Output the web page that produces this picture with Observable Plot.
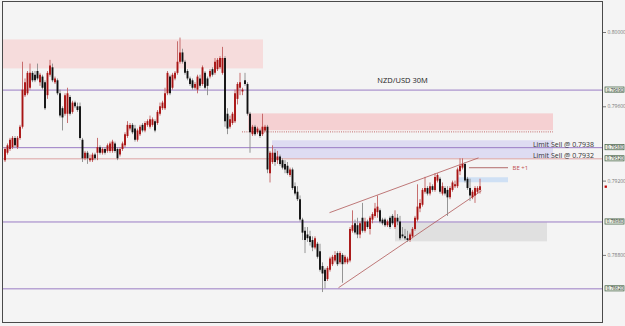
<!DOCTYPE html>
<html><head><meta charset="utf-8">
<script src="https://cdn.jsdelivr.net/npm/d3@7"></script>
<script src="https://cdn.jsdelivr.net/npm/@observablehq/plot@0.6"></script>
<style>
html,body{margin:0;padding:0;background:#f4f4f4;}
#chart{width:625px;height:326px;overflow:hidden;}
svg{display:block;}
</style></head><body><div id="chart"></div>
<script>
// NZD/USD 30M candles (price)
const open = [0.7931,0.7935,0.7937,0.7938,0.7943,0.7938,0.7943,0.7949,0.7966,0.7967,
0.7970,0.7978,0.7977,0.7979,0.7973,0.7976,0.7973,0.7966,0.7977,0.7981,
0.7973,0.7974,0.7967,0.7959,0.7956,0.7956,0.7965,0.7957,0.7962,0.7960,
0.7960,0.7942,0.7932,0.7935,0.7931,0.7931,0.7934,0.7935,0.7938,0.7935,
0.7937,0.7936,0.7936,0.7936,0.7940,0.7937,0.7934,0.7937,0.7939,0.7944,
0.7948,0.7950,0.7948,0.7942,0.7945,0.7950,0.7947,0.7950,0.7949,0.7950,
0.7952,0.7951,0.7956,0.7959,0.7959,0.7967,0.7976,0.7970,0.7975,0.7978,
0.7984,0.7989,0.7984,0.7979,0.7975,0.7974,0.7970,0.7969,0.7975,0.7972,
0.7978,0.7975,0.7976,0.7980,0.7978,0.7980,0.7981,0.7978,0.7986,0.7956,
0.7949,0.7951,0.7952,0.7964,0.7970,0.7968,0.7974,0.7972,0.7956,0.7945,
0.7949,0.7946,0.7947,0.7945,0.7947,0.7949,0.7924,0.7930,0.7935,0.7931,
0.7933,0.7931,0.7929,0.7928,0.7923,0.7926,0.7917,0.7914,0.7910,0.7899,
0.7893,0.7891,0.7890,0.7888,0.7884,0.7886,0.7882,0.7874,0.7872,0.7867,
0.7872,0.7875,0.7877,0.7881,0.7876,0.7880,0.7876,0.7876,0.7877,0.7893,
0.7897,0.7896,0.7891,0.7900,0.7893,0.7898,0.7894,0.7899,0.7901,0.7903,
0.7904,0.7899,0.7899,0.7896,0.7900,0.7901,0.7895,0.7900,0.7898,0.7891,
0.7890,0.7889,0.7888,0.7890,0.7894,0.7899,0.7905,0.7907,0.7914,0.7916,
0.7913,0.7917,0.7915,0.7920,0.7921,0.7913,0.7916,0.7915,0.7911,0.7915,
0.7917,0.7917,0.7925,0.7927,0.7929,0.7921,0.7916,0.7911,0.7912,0.7914,0.7915];
const high = [0.7938,0.7940,0.7943,0.7944,0.7944,0.7944,0.7950,0.7984,0.7975,0.7979,
0.7983,0.7979,0.7979,0.7983,0.7978,0.7977,0.7974,0.7979,0.7985,0.7983,
0.7976,0.7975,0.7969,0.7960,0.7967,0.7970,0.7966,0.7963,0.7963,0.7962,
0.7962,0.7943,0.7936,0.7936,0.7934,0.7935,0.7935,0.7943,0.7939,0.7938,
0.7938,0.7940,0.7941,0.7942,0.7941,0.7938,0.7938,0.7941,0.7946,0.7952,
0.7951,0.7951,0.7950,0.7948,0.7950,0.7951,0.7952,0.7953,0.7955,0.7954,
0.7953,0.7958,0.7962,0.7963,0.7970,0.7979,0.7977,0.7978,0.7979,0.7995,
0.7997,0.7991,0.7985,0.7980,0.7976,0.7975,0.7973,0.7977,0.7977,0.7982,
0.7979,0.7976,0.7980,0.7981,0.7986,0.7986,0.7987,0.7992,0.7987,0.7959,
0.7955,0.7957,0.7969,0.7973,0.7978,0.7970,0.7978,0.7973,0.7957,0.7950,
0.7950,0.7949,0.7948,0.7956,0.7950,0.7950,0.7936,0.7939,0.7937,0.7936,
0.7934,0.7932,0.7931,0.7930,0.7927,0.7927,0.7919,0.7917,0.7912,0.7900,
0.7895,0.7895,0.7893,0.7890,0.7890,0.7887,0.7886,0.7876,0.7873,0.7874,
0.7879,0.7880,0.7882,0.7882,0.7882,0.7881,0.7880,0.7879,0.7895,0.7904,
0.7899,0.7900,0.7898,0.7908,0.7900,0.7899,0.7901,0.7903,0.7908,0.7912,
0.7905,0.7900,0.7900,0.7899,0.7901,0.7902,0.7904,0.7902,0.7901,0.7895,
0.7894,0.7893,0.7892,0.7895,0.7901,0.7918,0.7910,0.7916,0.7922,0.7917,
0.7919,0.7918,0.7924,0.7924,0.7922,0.7919,0.7917,0.7917,0.7917,0.7920,
0.7920,0.7927,0.7932,0.7932,0.7930,0.7922,0.7921,0.7915,0.7917,0.7917,0.7921];
const low = [0.7930,0.7934,0.7936,0.7937,0.7938,0.7937,0.7942,0.7948,0.7965,0.7966,
0.7969,0.7973,0.7973,0.7974,0.7971,0.7969,0.7958,0.7964,0.7976,0.7973,
0.7972,0.7966,0.7954,0.7947,0.7955,0.7951,0.7955,0.7956,0.7959,0.7957,
0.7942,0.7930,0.7931,0.7929,0.7930,0.7930,0.7931,0.7931,0.7934,0.7934,
0.7934,0.7935,0.7935,0.7935,0.7935,0.7931,0.7933,0.7936,0.7938,0.7943,
0.7947,0.7945,0.7941,0.7941,0.7944,0.7946,0.7946,0.7949,0.7948,0.7949,
0.7946,0.7950,0.7955,0.7958,0.7958,0.7966,0.7966,0.7969,0.7974,0.7977,
0.7983,0.7983,0.7977,0.7974,0.7971,0.7969,0.7969,0.7967,0.7970,0.7971,
0.7969,0.7966,0.7975,0.7976,0.7977,0.7979,0.7980,0.7977,0.7949,0.7945,
0.7948,0.7950,0.7951,0.7961,0.7966,0.7966,0.7971,0.7955,0.7935,0.7944,
0.7944,0.7945,0.7943,0.7944,0.7946,0.7924,0.7919,0.7929,0.7928,0.7929,
0.7928,0.7926,0.7924,0.7923,0.7922,0.7915,0.7912,0.7909,0.7898,0.7888,
0.7881,0.7887,0.7885,0.7882,0.7883,0.7878,0.7871,0.7860,0.7862,0.7866,
0.7871,0.7874,0.7876,0.7874,0.7875,0.7865,0.7875,0.7875,0.7876,0.7892,
0.7891,0.7889,0.7889,0.7892,0.7892,0.7894,0.7891,0.7897,0.7900,0.7900,
0.7897,0.7896,0.7895,0.7895,0.7894,0.7896,0.7894,0.7896,0.7888,0.7889,
0.7888,0.7887,0.7887,0.7889,0.7893,0.7898,0.7903,0.7906,0.7913,0.7912,
0.7912,0.7914,0.7914,0.7919,0.7913,0.7912,0.7912,0.7901,0.7910,0.7914,
0.7916,0.7916,0.7923,0.7926,0.7919,0.7915,0.7909,0.7910,0.7908,0.7913,0.7913];
const close = [0.7937,0.7939,0.7942,0.7943,0.7939,0.7943,0.7949,0.7969,0.7973,0.7978,
0.7978,0.7974,0.7974,0.7975,0.7977,0.7970,0.7959,0.7978,0.7982,0.7974,
0.7975,0.7967,0.7955,0.7954,0.7966,0.7967,0.7956,0.7962,0.7960,0.7958,
0.7943,0.7932,0.7935,0.7932,0.7932,0.7934,0.7932,0.7938,0.7935,0.7937,
0.7935,0.7939,0.7940,0.7941,0.7936,0.7932,0.7937,0.7940,0.7945,0.7950,
0.7950,0.7946,0.7942,0.7947,0.7949,0.7947,0.7951,0.7952,0.7953,0.7953,
0.7947,0.7957,0.7960,0.7962,0.7967,0.7978,0.7967,0.7977,0.7978,0.7984,
0.7989,0.7984,0.7978,0.7975,0.7972,0.7970,0.7972,0.7976,0.7971,0.7981,
0.7970,0.7971,0.7979,0.7977,0.7984,0.7985,0.7986,0.7986,0.7952,0.7948,
0.7953,0.7956,0.7967,0.7972,0.7973,0.7969,0.7972,0.7956,0.7946,0.7949,
0.7945,0.7948,0.7944,0.7949,0.7949,0.7926,0.7935,0.7935,0.7930,0.7933,
0.7929,0.7927,0.7926,0.7924,0.7926,0.7916,0.7913,0.7910,0.7899,0.7892,
0.7888,0.7889,0.7887,0.7884,0.7889,0.7879,0.7872,0.7870,0.7866,0.7873,
0.7878,0.7879,0.7880,0.7875,0.7881,0.7875,0.7879,0.7878,0.7894,0.7896,
0.7892,0.7891,0.7897,0.7893,0.7898,0.7895,0.7900,0.7902,0.7905,0.7906,
0.7898,0.7897,0.7896,0.7898,0.7895,0.7897,0.7900,0.7898,0.7889,0.7890,
0.7889,0.7888,0.7891,0.7894,0.7900,0.7906,0.7908,0.7915,0.7916,0.7913,
0.7917,0.7915,0.7922,0.7923,0.7914,0.7917,0.7913,0.7911,0.7916,0.7919,
0.7918,0.7926,0.7928,0.7929,0.7920,0.7916,0.7912,0.7914,0.7916,0.7916,0.7917];

// horizontal levels
const purpleLevels = [0.7969, 0.7938, 0.7898, 0.7862];
const pinkLevels = [0.7932];
const priceBoxes = [0.7969, 0.7938, 0.7932, 0.7898, 0.7862];
const priceBoxLabels = ["0.79690", "0.79380", "0.79320", "0.78980", "0.78620"];
const axisTicks = [0.8000, 0.7960, 0.7920, 0.7880];

// zones: [bar start, bar end, price low, price high]
const zoneSupplyTop = [-1, 103.4, 0.79804, 0.7996];
const zoneSupplyMid = [97.4, 219.4, 0.79471, 0.79562];
const zoneLimitSell = [107, 219.4, 0.7932, 0.79417];
const zoneTarget = [181.4, 201.4, 0.79191, 0.79218];
const zoneDemand = [156.2, 217, 0.78873, 0.78976];
const dottedLevel = {x1: 95, x2: 219.4, y: 0.79465};
const beLine = {x1: 185.8, x2: 201.4, y: 0.79272};
// rising wedge
const wedgeUpper = {x1: 129.8, y1: 0.7903, x2: 189.4, y2: 0.79325};
const wedgeLower = {x1: 133.4, y1: 0.78626, x2: 190.6, y2: 0.79148};

const candles = open.map((o, i) => ({i, o, h: high[i], l: low[i], c: close[i], up: close[i] >= o}));
const z = a => ({x1: a[0], x2: a[1], y1: a[2], y2: a[3]});

const chart = Plot.plot({
  width: 625, height: 326,
  marginLeft: 2, marginRight: 23, marginTop: 1, marginBottom: 4,
  style: {background: "#f4f4f4", fontFamily: "'Open Sans', 'DejaVu Sans', sans-serif", overflow: "visible"},
  x: {domain: [-1, 239], axis: null},
  y: {domain: [0.784388, 0.801669], axis: null},
  marks: [
    Plot.rect([z(zoneSupplyTop)], {x1: "x1", x2: "x2", y1: "y1", y2: "y2", fill: "#f6dcdc"}),
    Plot.rect([z(zoneSupplyMid)], {x1: "x1", x2: "x2", y1: "y1", y2: "y2", fill: "#f5d0d2"}),
    Plot.rect([z(zoneLimitSell)], {x1: "x1", x2: "x2", y1: "y1", y2: "y2", fill: "#dedcf2"}),
    Plot.rect([z(zoneTarget)], {x1: "x1", x2: "x2", y1: "y1", y2: "y2", fill: "#cfe0f4"}),
    Plot.rect([z(zoneDemand)], {x1: "x1", x2: "x2", y1: "y1", y2: "y2", fill: "#e0e0e0"}),
    Plot.ruleY(purpleLevels, {stroke: "#9a7cc4", strokeWidth: 1}),
    Plot.ruleY(pinkLevels, {stroke: "#dca4a4", strokeWidth: 1}),
    Plot.ruleY([dottedLevel], {x1: "x1", x2: "x2", y: "y", stroke: "#b84848", strokeWidth: 0.8, strokeDasharray: "1,1.2"}),
    Plot.ruleY([beLine], {x1: "x1", x2: "x2", y: "y", stroke: "#a04848", strokeWidth: 0.8}),
    Plot.link([wedgeUpper, wedgeLower], {x1: "x1", y1: "y1", x2: "x2", y2: "y2", stroke: "#b05858", strokeWidth: 0.8}),
    Plot.ruleX(candles, {x: "i", y1: "l", y2: "h", stroke: d => d.up ? "#c26060" : "#8a8a8a", strokeWidth: 0.9}),
    Plot.ruleX(candles, {x: "i", y1: "o", y2: "c", stroke: d => d.up ? "#a81414" : "#101010", strokeWidth: 1.9}),
    Plot.text(["NZD/USD 30M"], {x: 159, y: 0.7974, fontSize: 7.5, fill: "#222"}),
    Plot.text(["Limit Sell @ 0.7938"], {x: 235.6, y: 0.79396, textAnchor: "end", fontSize: 7, fill: "#333"}),
    Plot.text(["Limit Sell @ 0.7932"], {x: 235.6, y: 0.79336, textAnchor: "end", fontSize: 7, fill: "#333"}),
    Plot.text(["BE +1"], {x: 203, y: 0.79272, textAnchor: "start", fontSize: 6, fill: "#c05050"}),
    Plot.frame({stroke: "#4a4a4a", strokeWidth: 1}),
    Plot.axisY({ticks: axisTicks, anchor: "right", tickSize: 3, tickPadding: 2, fontSize: 5, tickFormat: d3.format(".5f"), color: "#777", stroke: "#777"}),
    Plot.rect(priceBoxes, {x1: 240.2, x2: 247.8, y1: d => d - 0.00014, y2: d => d + 0.00014, fill: "#eef4ea", stroke: "#3c5a3c", strokeWidth: 0.7}),
    Plot.text(priceBoxes, {x: 244, y: d => d, text: (d, i) => priceBoxLabels[i], fontSize: 4.5, fill: "#1a2a1a"}),
    Plot.dot([close[close.length - 1]], {x: 240.3, y: d => d, r: 1.3, symbol: "square", fill: "#c00000"})
  ]
});
document.getElementById("chart").appendChild(chart);
</script>
</body></html>
